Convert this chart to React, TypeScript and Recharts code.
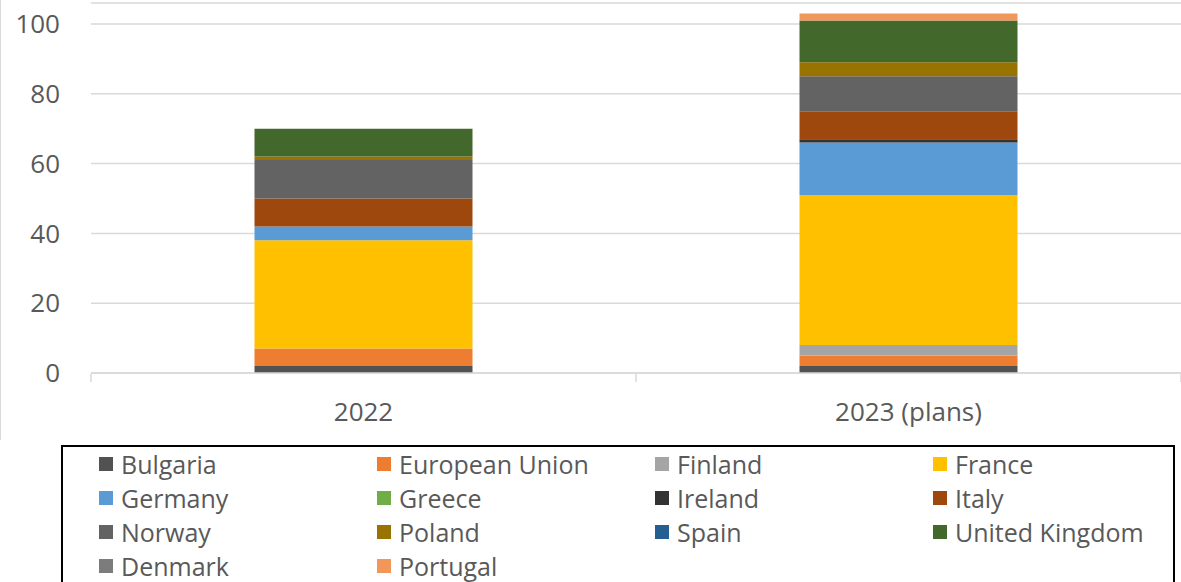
import { Bar, BarChart, CartesianGrid, XAxis, YAxis } from 'recharts';

const categories = ['2022', '2023 (plans)'];

// values per category, bottom of the stack first
const bulgaria = [2, 2];
const europeanUnion = [5, 3];
const finland = [0, 3];
const france = [31, 43];
const germany = [4, 15];
const greece = [0, 0];
const ireland = [0, 1];
const italy = [8, 8];
const norway = [11, 10];
const poland = [1, 4];
const spain = [0, 0];
const unitedKingdom = [8, 12];
const denmark = [0, 0];
const portugal = [0, 2];

const yTicks = [0, 20, 40, 60, 80, 100];
// category boundaries, where Excel puts the x tick marks
const edgeTicks = [0, 1, 2];

const SERIES: { name: string; values: number[] }[] = [
  { name: 'Bulgaria', values: bulgaria },
  { name: 'European Union', values: europeanUnion },
  { name: 'Finland', values: finland },
  { name: 'France', values: france },
  { name: 'Germany', values: germany },
  { name: 'Greece', values: greece },
  { name: 'Ireland', values: ireland },
  { name: 'Italy', values: italy },
  { name: 'Norway', values: norway },
  { name: 'Poland', values: poland },
  { name: 'Spain', values: spain },
  { name: 'United Kingdom', values: unitedKingdom },
  { name: 'Denmark', values: denmark },
  { name: 'Portugal', values: portugal },
];

const COLORS: Record<string, string> = {
  Bulgaria: '#525252',
  'European Union': '#ED7D31',
  Finland: '#A5A5A5',
  France: '#FFC000',
  Germany: '#5B9BD5',
  Greece: '#70AD47',
  Ireland: '#333333',
  Italy: '#9E480E',
  Norway: '#636363',
  Poland: '#997300',
  Spain: '#255E91',
  'United Kingdom': '#43682B',
  Denmark: '#7C7C7C',
  Portugal: '#F1975A',
};

const FONT = '"Open Sans", Calibri, sans-serif';
const TEXT = '#595959';
const GRID = '#d9d9d9';

const data = categories.map((c, i) => {
  const row: Record<string, string | number> = { name: c, edge: i };
  for (const s of SERIES) row[s.name] = s.values[i];
  return row;
});

export default function App() {
  return (
    <div
      style={{
        position: 'absolute',
        left: 0,
        top: 0,
        width: 1181,
        height: 582,
        background: '#fff',
        overflow: 'hidden',
        fontFamily: FONT,
      }}
    >
      {/* chart area border, only the left edge is in frame */}
      <div style={{ position: 'absolute', left: 0, top: 0, width: 1, height: 440, background: GRID }} />
      <BarChart
        width={1181}
        height={582}
        data={data}
        margin={{ top: 3, right: 0, bottom: 170, left: 0 }}
        barCategoryGap="30%"
      >
        <CartesianGrid vertical={false} stroke={GRID} strokeWidth={1.5} />
        {/* category axis takes ~no height so the tick-mark axis sits on the baseline too */}
        <XAxis
          dataKey="name"
          height={1}
          axisLine={{ stroke: GRID, strokeWidth: 1.5 }}
          tickLine={false}
          tickMargin={24}
          tick={{ fill: TEXT, fontSize: 26, fontFamily: FONT }}
        />
        <XAxis
          xAxisId="edges"
          type="number"
          dataKey="edge"
          domain={[0, 2]}
          ticks={edgeTicks}
          height={38}
          axisLine={false}
          tickLine={{ stroke: GRID, strokeWidth: 1.5 }}
          tickSize={8}
          tick={() => <g />}
        />
        <YAxis
          width={91}
          domain={[0, 106]}
          ticks={yTicks}
          allowDataOverflow
          axisLine={false}
          tickLine={false}
          tickMargin={25}
          tick={{ fill: TEXT, fontSize: 26, fontFamily: FONT }}
        />
        {SERIES.map((s) => (
          <Bar key={s.name} dataKey={s.name} stackId="a" fill={COLORS[s.name]} isAnimationActive={false} />
        ))}
      </BarChart>

      {/* legend box */}
      <div
        style={{
          position: 'absolute',
          left: 61,
          top: 447,
          width: 1114,
          height: 160,
          border: '2px solid #000',
          boxSizing: 'border-box',
          display: 'grid',
          gridTemplateColumns: '278px 278px 278px 278px',
          gridAutoRows: '34px',
          paddingLeft: 36,
          paddingTop: 0,
          marginTop: -2,
        }}
      >
        {SERIES.map((s) => (
          <div key={s.name} style={{ display: 'flex', alignItems: 'center', height: 34 }}>
            <span style={{ width: 14, height: 14, background: COLORS[s.name], marginRight: 8, flexShrink: 0 }} />
            <span style={{ fontSize: 25, color: TEXT, whiteSpace: 'nowrap', lineHeight: '34px' }}>{s.name}</span>
          </div>
        ))}
      </div>
    </div>
  );
}
